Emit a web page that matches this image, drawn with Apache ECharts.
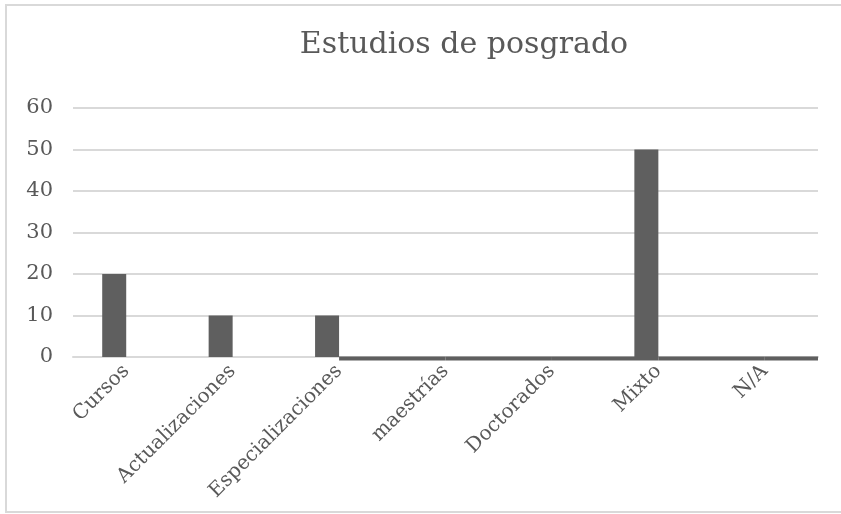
<!DOCTYPE html>
<html>
<head>
<meta charset="utf-8">
<script src="https://cdn.jsdelivr.net/npm/echarts@6/dist/echarts.min.js"></script>
<style>
    html, body { margin: 0; padding: 0; background: #fff; }
    #chart { width: 841px; height: 514px; }
</style>
</head>
<body>
<div id="chart"></div>
<script>
// datos del grafico
const categorias = ['Cursos', 'Actualizaciones', 'Especializaciones', 'maestrías', 'Doctorados', 'Mixto', 'N/A']
const valores = [20, 10, 10, 0, 0, 50, 0]
// segunda serie, todo en cero (solo se ve la linea oscura sobre el eje)
const serie2 = [null, null, 0, 0, 0, 0, 0]
const ticksY = { min: 0, max: 60, interval: 10 }

const gris = '#595959'
const fuente = 'DejaVu Serif'

const chart = echarts.init(document.getElementById('chart'))

// linea gruesa pegada al eje, desde el centro de cada categoria hasta el siguiente
function lineaBase(params, api) {
    const p = api.coord([api.value(0), api.value(1)])
    const ancho = api.size([1, 0])[0]
    const cs = params.coordSys
    // recorte solo en horizontal, la linea queda por debajo del eje
    const rect = echarts.graphic.clipRectByRect(
        { x: p[0], y: p[1] - 0.5, width: ancho, height: 4 },
        { x: cs.x, y: cs.y, width: cs.width, height: cs.height + 10 }
    )
    if (!rect) return
    return { type: 'rect', shape: rect, style: { fill: '#5f5f5f' } }
}

const option = {
    animation: false,
    backgroundColor: '#fff',
    title: {
        text: 'Estudios de posgrado',
        left: 459,
        top: 25,
        textAlign: 'center',
        textStyle: { fontFamily: fuente, fontSize: 30, fontWeight: 'normal', color: gris }
    },
    graphic: [{
        type: 'rect',
        shape: { x: 6, y: 5, width: 860, height: 507 },
        style: { fill: 'none', stroke: '#d9d9d9', lineWidth: 2 },
        silent: true
    }],
    grid: { left: 73, right: 23, top: 108, bottom: 157 },
    xAxis: {
        type: 'category',
        data: categorias,
        axisLine: { lineStyle: { color: '#d9d9d9', width: 2 } },
        axisTick: { show: false },
        axisLabel: {
            interval: 0,
            rotate: 45,
            margin: 11,
            fontFamily: fuente,
            fontSize: 20,
            color: gris
        }
    },
    yAxis: {
        type: 'value',
        min: ticksY.min,
        max: ticksY.max,
        interval: ticksY.interval,
        axisLine: { show: false },
        axisTick: { show: false },
        splitLine: { lineStyle: { color: '#d9d9d9', width: 2 } },
        axisLabel: { fontFamily: fuente, fontSize: 21, color: gris, margin: 20 }
    },
    series: [
        {
            type: 'bar',
            data: valores,
            barWidth: 24,
            barGap: '0%',
            z: 3,
            itemStyle: { color: '#5f5f5f' }
        },
        {
            type: 'bar',
            data: valores.map(() => 0),
            barWidth: 24,
            itemStyle: { color: '#5f5f5f' }
        },
        {
            type: 'custom',
            data: serie2.map((v, i) => v === null ? null : [i, v]).filter(d => d),
            renderItem: lineaBase,
            clip: false,
            z: 1,
            silent: true
        }
    ]
}

chart.setOption(option)
</script>
</body>
</html>
